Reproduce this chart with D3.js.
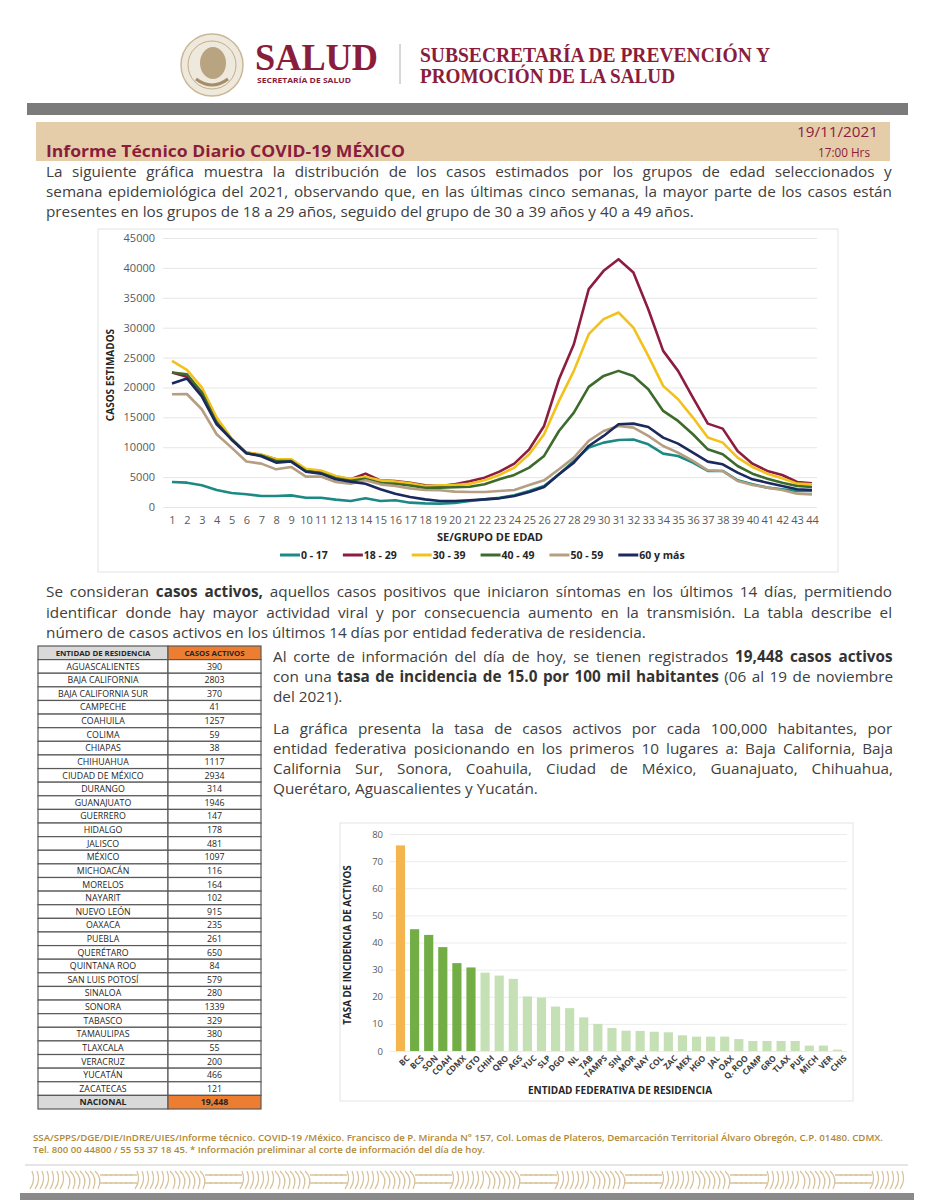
<!DOCTYPE html>
<html>
<head>
<meta charset="utf-8">
<script src="https://cdn.jsdelivr.net/npm/d3@7"></script>
<style>
  body { margin: 0; background: #fff; }
</style>
</head>
<body>
<script>
// ---- data: casos estimados por semana epidemiológica y grupo de edad
var weeks = [1,2,3,4,5,6,7,8,9,10,11,12,13,14,15,16,17,18,19,20,21,22,
             23,24,25,26,27,28,29,30,31,32,33,34,35,36,37,38,39,40,41,42,43,44];

var s0_17  = [4190,4070,3630,2850,2340,2120,1840,1840,1950,1560,1560,1230,1000,1450,1000,1120,725,610,560,670,
              1000,1280,1560,1950,2680,3520,5470,7700,9930,10770,11200,11300,10490,8930,8540,7420,6030,6030,4460,3800,3240,2960,2680,2680];
var s18_29 = [22490,21800,19000,14200,11300,9100,8700,7980,7900,6200,5900,5100,4630,5580,4460,4350,4070,3630,3520,3800,
              4300,4910,5920,7250,9650,13560,21370,27230,36440,39510,41460,39230,33090,26120,22770,18300,13950,13110,9380,7250,6030,5360,4190,3960];
var s30_39 = [24440,22930,20000,14950,11500,9100,8800,8000,8000,6400,6100,5200,4700,5020,4460,4250,3950,3520,3630,3680,
              3900,4460,5360,6590,8820,12170,17750,22770,28910,31420,32540,30020,25280,20260,18030,14960,11610,10770,8260,6700,5580,4800,3910,3800];
var s40_49 = [22500,22200,19200,14100,11300,9000,8600,7700,7700,6000,5700,4800,4400,4700,4000,3900,3600,3200,3240,3300,
              3400,3800,4630,5360,6590,8540,12720,15790,20090,21930,22770,21930,19700,16070,14400,12170,9650,8820,6860,5580,4740,4070,3520,3350];
var s50_59 = [18860,18900,16350,12170,9930,7600,7260,6300,6700,5080,5080,4190,3900,4460,3790,3500,3120,2850,2790,2570,
              2510,2510,2680,2850,3680,4460,6310,8260,11050,12720,13560,13280,11890,10210,9100,7700,6140,6030,4350,3680,3240,2850,2230,2120];
var s60    = [20650,21490,18500,13840,11300,9000,8500,7420,7600,5900,5580,4630,4240,3900,2960,2230,1670,1280,1000,1000,
              1120,1280,1450,1840,2510,3350,5470,7420,10210,11890,13840,13950,13390,11610,10600,9100,7590,7140,5750,4630,4070,3520,2960,2850];

var seriesNames  = ["0 - 17", "18 - 29", "30 - 39", "40 - 49", "50 - 59", "60 y más"];
var seriesValues = [s0_17, s18_29, s30_39, s40_49, s50_59, s60];
var seriesColors = ["#1b8a84", "#8c1d40", "#f2c21b", "#3d6b2c", "#b59e82", "#1b2a5c"];
var yTicks = [0,5000,10000,15000,20000,25000,30000,35000,40000,45000];

// ---- data: casos activos por entidad
var entidades = ["AGUASCALIENTES","BAJA CALIFORNIA","BAJA CALIFORNIA SUR","CAMPECHE","COAHUILA","COLIMA",
  "CHIAPAS","CHIHUAHUA","CIUDAD DE MÉXICO","DURANGO","GUANAJUATO","GUERRERO","HIDALGO","JALISCO","MÉXICO",
  "MICHOACÁN","MORELOS","NAYARIT","NUEVO LEÓN","OAXACA","PUEBLA","QUERÉTARO","QUINTANA ROO","SAN LUIS POTOSÍ",
  "SINALOA","SONORA","TABASCO","TAMAULIPAS","TLAXCALA","VERACRUZ","YUCATÁN","ZACATECAS"];
var activos = [390,2803,370,41,1257,59,38,1117,2934,314,1946,147,178,481,1097,116,164,102,915,235,261,650,84,579,
  280,1339,329,380,55,200,466,121];
var nacional = "19,448";

// ---- data: tasa de incidencia de activos
var abrev = ["BC","BCS","SON","COAH","CDMX","GTO","CHIH","QRO","AGS","YUC","SLP","DGO","NL","TAB","TAMPS","SIN",
  "MOR","NAY","COL","ZAC","MEX","HGO","JAL","OAX","Q. ROO","CAMP","GRO","TLAX","PUE","MICH","VER","CHIS"];
var tasa = [75.8,44.9,42.8,38.3,32.4,30.8,28.9,27.8,26.6,20.1,19.7,16.4,15.8,12.4,10.0,8.5,
  7.5,7.4,7.1,6.9,5.8,5.3,5.3,5.3,4.4,3.7,3.7,3.7,3.7,2.0,2.0,0.5];
var barTicks = [0,10,20,30,40,50,60,70,80];

var maroon = "#8a1c3c";
var textGray = "#404040";
var bodyFont = "'Open Sans', sans-serif";

var svg = d3.select("body").append("svg")
    .attr("width", 934)
    .attr("height", 1200)
    .style("font-family", bodyFont);

// stretch the spaces of a line so it fills the given width
function justify(sel, width) {
  sel.each(function() {
    var n = (this.textContent.match(/ /g) || []).length;
    var w = this.getBBox().width;
    if (n > 0) d3.select(this).attr("word-spacing", (width - w) / n);
  });
}

// a line of text made of [string, bold] parts
function textLine(x0, y0, parts, size, width) {
  var t = svg.append("text")
      .attr("x", x0).attr("y", y0)
      .attr("font-size", size)
      .attr("fill", textGray)
      .attr("xml:space", "preserve");
  parts.forEach(function(p) {
    t.append("tspan")
      .attr("font-weight", p[1] ? 700 : 400)
      .attr("fill", p[1] ? "#333" : textGray)
      .text(p[0]);
  });
  if (width) justify(t, width);
  return t;
}

// ---- header
var emblem = svg.append("g").attr("transform", "translate(212,65)");
emblem.append("circle").attr("r", 31).attr("fill", "#efe8dc").attr("stroke", "#c9b896").attr("stroke-width", 1.5);
emblem.append("circle").attr("r", 24).attr("fill", "none").attr("stroke", "#c2ad88").attr("stroke-width", 1);
emblem.append("ellipse").attr("cx", 1).attr("cy", -2).attr("rx", 13).attr("ry", 16).attr("fill", "#b9a482");
emblem.append("path").attr("d", "M-16,14 Q0,26 16,14").attr("fill", "none").attr("stroke", "#a48d69").attr("stroke-width", 3);

svg.append("text").attr("x", 255).attr("y", 70)
    .attr("font-family", "'Liberation Serif', serif").attr("font-weight", 700)
    .attr("font-size", 38).attr("fill", maroon)
    .attr("textLength", 123).attr("lengthAdjust", "spacingAndGlyphs")
    .text("SALUD");
svg.append("text").attr("x", 257).attr("y", 83)
    .attr("font-weight", 700)
    .attr("font-size", 6.5).attr("fill", maroon)
    .attr("textLength", 94).attr("lengthAdjust", "spacingAndGlyphs")
    .text("SECRETARÍA DE SALUD");
svg.append("line").attr("x1", 400).attr("x2", 400).attr("y1", 44).attr("y2", 84)
    .attr("stroke", "#b0b0b0").attr("stroke-width", 1);
svg.append("text").attr("x", 420).attr("y", 62)
    .attr("font-family", "'Liberation Serif', serif").attr("font-weight", 700)
    .attr("font-size", 20).attr("fill", maroon)
    .attr("textLength", 350).attr("lengthAdjust", "spacingAndGlyphs")
    .text("SUBSECRETARÍA DE PREVENCIÓN Y");
svg.append("text").attr("x", 420).attr("y", 83)
    .attr("font-family", "'Liberation Serif', serif").attr("font-weight", 700)
    .attr("font-size", 20).attr("fill", maroon)
    .attr("textLength", 255).attr("lengthAdjust", "spacingAndGlyphs")
    .text("PROMOCIÓN DE LA SALUD");

svg.append("rect").attr("x", 27).attr("y", 103).attr("width", 881).attr("height", 12).attr("fill", "#7b7b7b");
svg.append("rect").attr("x", 36).attr("y", 122).attr("width", 854).attr("height", 39).attr("fill", "#e6cdaa");
svg.append("text").attr("x", 46).attr("y", 157)
    .attr("font-size", 16.5).attr("font-weight", 700).attr("fill", maroon)
    .attr("textLength", 359).attr("lengthAdjust", "spacingAndGlyphs")
    .text("Informe Técnico Diario COVID-19 MÉXICO");
svg.append("text").attr("x", 878).attr("y", 137).attr("text-anchor", "end")
    .attr("font-size", 15).attr("fill", maroon)
    .attr("textLength", 81).attr("lengthAdjust", "spacingAndGlyphs")
    .text("19/11/2021");
svg.append("text").attr("x", 870).attr("y", 157).attr("text-anchor", "end")
    .attr("font-size", 12).attr("fill", maroon)
    .attr("textLength", 52).attr("lengthAdjust", "spacingAndGlyphs")
    .text("17:00 Hrs");

// ---- intro paragraph
textLine(46, 177, [["La siguiente gráfica muestra la distribución de los casos estimados por los grupos de edad seleccionados y", false]], 15.3, 846);
textLine(46, 197, [["semana epidemiológica del 2021, observando que, en las últimas cinco semanas, la mayor parte de los casos están", false]], 15.3, 846);
textLine(46, 217, [["presentes en los grupos de 18 a 29 años, seguido del grupo de 30 a 39 años y 40 a 49 años.", false]], 15.3);

// ---- line chart
var lc = svg.append("g");
lc.append("rect").attr("x", 98).attr("y", 229).attr("width", 740).attr("height", 343)
    .attr("fill", "none").attr("stroke", "#e4e4e4");

var x = d3.scaleLinear().domain([1, 44]).range([172, 812]);
var y = d3.scaleLinear().domain([0, 45000]).range([507, 238]);

var yAxis = lc.append("g").attr("transform", "translate(163,0)")
    .call(d3.axisLeft(y).tickValues(yTicks).tickFormat(d3.format("d")).tickSize(-654).tickPadding(8));
yAxis.select(".domain").remove();
yAxis.selectAll(".tick line").attr("stroke", "#e6e6e6");
yAxis.selectAll(".tick text").attr("font-size", 11).attr("fill", "#595959").style("font-family", bodyFont);

var xAxis = lc.append("g").attr("transform", "translate(0,507)")
    .call(d3.axisBottom(x).tickValues(weeks).tickFormat(d3.format("d")).tickSize(0).tickPadding(9));
xAxis.select(".domain").remove();
xAxis.selectAll(".tick text").attr("font-size", 11).attr("fill", "#595959").style("font-family", bodyFont);

var line = d3.line()
    .x(function(d, i) { return x(weeks[i]); })
    .y(function(d) { return y(d); });

lc.selectAll(".serie")
    .data(seriesValues)
    .enter().append("path")
    .attr("class", "serie")
    .attr("d", line)
    .attr("fill", "none")
    .attr("stroke", function(d, i) { return seriesColors[i]; })
    .attr("stroke-width", 2.6)
    .attr("stroke-linejoin", "round");

lc.append("text").attr("transform", "translate(114,375) rotate(-90)")
    .attr("text-anchor", "middle").attr("font-size", 10).attr("font-weight", 700).attr("fill", "#262626")
    .text("CASOS ESTIMADOS");
lc.append("text").attr("x", 490).attr("y", 541)
    .attr("text-anchor", "middle").attr("font-size", 11).attr("font-weight", 700).attr("fill", "#262626")
    .text("SE/GRUPO DE EDAD");

// legend, laid out left to right
var lx = 280;
seriesNames.forEach(function(name, i) {
  lc.append("line").attr("x1", lx).attr("x2", lx + 20).attr("y1", 555).attr("y2", 555)
      .attr("stroke", seriesColors[i]).attr("stroke-width", 3);
  var t = lc.append("text").attr("x", lx + 21).attr("y", 559)
      .attr("font-size", 10.5).attr("font-weight", 700).attr("fill", "#262626").text(name);
  lx += 21 + t.node().getBBox().width + 15;
});

// ---- active cases paragraph
textLine(46, 597, [["Se consideran ", false], ["casos activos,", true], [" aquellos casos positivos que iniciaron síntomas en los últimos 14 días, permitiendo", false]], 15.3, 846);
textLine(46, 618, [["identificar donde hay mayor actividad viral y por consecuencia aumento en la transmisión. La tabla describe el", false]], 15.3, 846);
textLine(46, 638, [["número de casos activos en los últimos 14 días por entidad federativa de residencia.", false]], 15.3);

textLine(273, 662, [["Al corte de información del día de hoy, se tienen registrados ", false], ["19,448 casos activos", true]], 15.3, 620);
textLine(273, 682, [["con una ", false], ["tasa de incidencia de 15.0 por 100 mil habitantes", true], [" (06 al 19 de noviembre", false]], 15.3, 620);
textLine(273, 702, [["del 2021).", false]], 15.3);

textLine(273, 734, [["La gráfica presenta la tasa de casos activos por cada 100,000 habitantes, por", false]], 15.3, 620);
textLine(273, 754, [["entidad federativa posicionando en los primeros 10 lugares a: Baja California, Baja", false]], 15.3, 620);
textLine(273, 774, [["California Sur, Sonora, Coahuila, Ciudad de México, Guanajuato, Chihuahua,", false]], 15.3, 620);
textLine(273, 794, [["Querétaro, Aguascalientes y Yucatán.", false]], 15.3);

// ---- table
var rows = ["head"].concat(entidades, ["total"]);
var ry = d3.scaleBand().domain(rows).range([646, 1109]);
var tb = svg.append("g");

var rowG = tb.selectAll(".row").data(rows).enter().append("g")
    .attr("class", "row")
    .attr("transform", function(d) { return "translate(0," + ry(d) + ")"; });

rowG.append("rect").attr("x", 38).attr("width", 130).attr("height", ry.bandwidth())
    .attr("fill", function(d) { return (d === "head" || d === "total") ? "#d9d9d9" : "#fff"; })
    .attr("stroke", "#595959").attr("stroke-width", 1.2);
rowG.append("rect").attr("x", 168).attr("width", 93).attr("height", ry.bandwidth())
    .attr("fill", function(d) { return (d === "head" || d === "total") ? "#ed7d31" : "#fff"; })
    .attr("stroke", "#595959").attr("stroke-width", 1.2);

rowG.append("text").attr("x", 103).attr("y", ry.bandwidth() / 2 + 3.2)
    .attr("text-anchor", "middle")
    .attr("font-size", function(d) { return d === "head" ? 7.8 : 8.8; })
    .attr("font-weight", function(d) { return (d === "head" || d === "total") ? 700 : 400; })
    .attr("fill", "#262626")
    .text(function(d) { return d === "head" ? "ENTIDAD DE RESIDENCIA" : d === "total" ? "NACIONAL" : d; });
rowG.append("text").attr("x", 214.5).attr("y", ry.bandwidth() / 2 + 3.2)
    .attr("text-anchor", "middle")
    .attr("font-size", function(d) { return d === "head" ? 7.8 : 8.8; })
    .attr("font-weight", function(d) { return (d === "head" || d === "total") ? 700 : 400; })
    .attr("fill", "#262626")
    .text(function(d, i) {
      if (d === "head") return "CASOS ACTIVOS";
      if (d === "total") return nacional;
      return activos[i - 1];
    });

// ---- bar chart
var bc = svg.append("g");
bc.append("rect").attr("x", 340).attr("y", 823).attr("width", 513).attr("height", 278)
    .attr("fill", "none").attr("stroke", "#e4e4e4");

var bx = d3.scaleBand().domain(abrev).range([391, 847]).padding(0.35);
var by = d3.scaleLinear().domain([0, 80]).range([1051, 834]);

var byAxis = bc.append("g").attr("transform", "translate(390,0)")
    .call(d3.axisLeft(by).tickValues(barTicks).tickSize(-457).tickPadding(7));
byAxis.select(".domain").remove();
byAxis.selectAll(".tick line").attr("stroke", "#ececec");
byAxis.selectAll(".tick text").attr("font-size", 9.5).attr("fill", "#595959").style("font-family", bodyFont);

bc.selectAll(".bar").data(tasa).enter().append("rect")
    .attr("class", "bar")
    .attr("x", function(d, i) { return bx(abrev[i]); })
    .attr("width", bx.bandwidth())
    .attr("y", function(d) { return by(d); })
    .attr("height", function(d) { return by(0) - by(d); })
    .attr("fill", function(d, i) { return i === 0 ? "#f4b54f" : i < 6 ? "#72ad45" : "#c6e0b5"; });

var bxAxis = bc.append("g").attr("transform", "translate(0,1051)")
    .call(d3.axisBottom(bx).tickSize(0).tickPadding(4));
bxAxis.select(".domain").remove();
bxAxis.selectAll(".tick text")
    .attr("font-size", 8.3).attr("font-weight", 700).attr("fill", "#404040")
    .style("font-family", bodyFont)
    .attr("text-anchor", "end")
    .attr("dy", "0.5em")
    .attr("transform", "translate(4,2) rotate(-45)");

bc.append("text").attr("transform", "translate(351,945) rotate(-90)")
    .attr("text-anchor", "middle").attr("font-size", 9.8).attr("font-weight", 700).attr("fill", "#262626")
    .text("TASA DE INCIDENCIA DE ACTIVOS");
bc.append("text").attr("x", 620).attr("y", 1094)
    .attr("text-anchor", "middle").attr("font-size", 10).attr("font-weight", 700).attr("fill", "#262626")
    .text("ENTIDAD FEDERATIVA DE RESIDENCIA");

// ---- footer
svg.append("text").attr("x", 33).attr("y", 1141)
    .attr("font-size", 9.6).attr("font-weight", 600).attr("fill", "#b08836")
    .attr("textLength", 850).attr("lengthAdjust", "spacingAndGlyphs")
    .text("SSA/SPPS/DGE/DIE/InDRE/UIES/Informe técnico. COVID-19 /México. Francisco de P. Miranda N° 157, Col. Lomas de Plateros, Demarcación Territorial Álvaro Obregón, C.P. 01480. CDMX.");
svg.append("text").attr("x", 33).attr("y", 1153)
    .attr("font-size", 9.6).attr("font-weight", 600).attr("fill", "#b08836")
    .attr("textLength", 452).attr("lengthAdjust", "spacingAndGlyphs")
    .text("Tel. 800 00 44800 / 55 53 37 18 45. * Información preliminar al corte de información del día de hoy.");
svg.append("line").attr("x1", 25).attr("x2", 908).attr("y1", 1165).attr("y2", 1165)
    .attr("stroke", "#dcdcdc").attr("stroke-width", 1.5);

// decorative band
var band = svg.append("g").attr("fill", "none").attr("stroke", "#d9c39c").attr("stroke-width", 1.3);
d3.range(30, 905, 5).forEach(function(px, i) {
  var k = Math.floor(i / 7) % 3;
  var d = k === 0 ? "M" + px + ",1189 Q" + (px + 6) + ",1180 " + (px + 2) + ",1171"
        : k === 1 ? "M" + px + ",1171 Q" + (px + 8) + ",1178 " + (px + 3) + ",1189"
        : "M" + px + ",1175 L" + (px + 7) + ",1175 M" + px + ",1183 L" + (px + 7) + ",1183";
  band.append("path").attr("d", d);
});
svg.append("rect").attr("x", 20).attr("y", 1193).attr("width", 894).attr("height", 7).attr("fill", "#8a8a8a");
</script>
</body>
</html>
